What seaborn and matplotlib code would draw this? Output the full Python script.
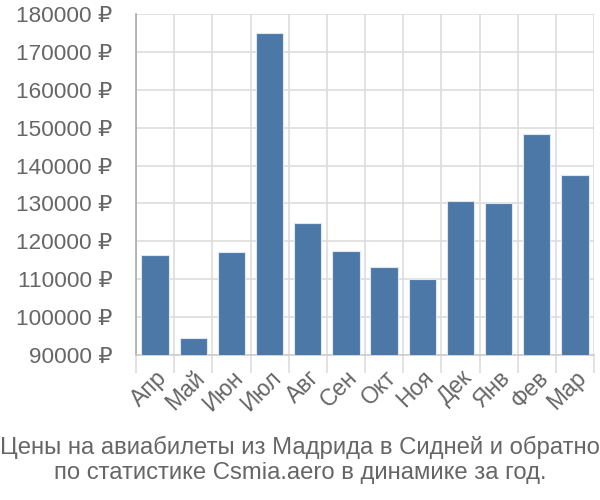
import matplotlib
matplotlib.use("Agg")
import matplotlib.pyplot as plt
from matplotlib.ticker import FixedLocator, FuncFormatter
import seaborn as sns
import pandas as pd

months = ["Апр", "Май", "Июн", "Июл", "Авг", "Сен", "Окт", "Ноя", "Дек", "Янв", "Фев", "Мар"]
prices = [116400, 94400, 117200, 175000, 124900, 117400, 113300, 110000, 130700, 130100, 148300, 137600]
caption = "Цены на авиабилеты из Мадрида в Сидней и обратно\nпо статистике Csmia.aero в динамике за год."

sns.set_theme(style="white")
plt.rcParams['font.family'] = ['Liberation Sans', 'DejaVu Sans']

df = pd.DataFrame({"month": months, "price": prices})

fig = plt.figure(figsize=(6, 5), dpi=100)
ax = fig.add_axes([136/600, 1-355/500, (594-136)/600, (355-14)/500])

sns.barplot(data=df, x="month", y="price", color="#4c78a8", saturation=1,
            width=0.72, edgecolor="#dfe6ee", linewidth=0.8, ax=ax, zorder=3)

ax.set_ylim(90000, 180000)
ax.set_xlim(-0.5, len(months) - 0.5)
ax.set_yticks(range(90000, 180001, 10000))
ax.yaxis.set_major_formatter(FuncFormatter(lambda v, p: f"{int(v)} ₽"))
ax.set_xticks(range(len(months)))
ax.set_xticklabels(months, rotation=45, ha="right", va="top", rotation_mode="anchor")
ax.xaxis.set_minor_locator(FixedLocator([i - 0.5 for i in range(len(months) + 1)]))

ax.grid(False)
ax.grid(True, axis="y", which="major", color="#dddddd", linewidth=1.2, zorder=0)
ax.grid(True, axis="x", which="minor", color="#dddddd", linewidth=1.2, zorder=0)
ax.set_axisbelow(True)

ax.tick_params(axis="y", which="major", length=15, color="#dddddd", width=1.2,
               labelsize=16.2, labelcolor="#666666", pad=2)
ax.tick_params(axis="x", which="major", length=0, labelsize=16.5, labelcolor="#666666", pad=8)
ax.tick_params(axis="x", which="minor", length=13, color="#dddddd", width=1.2, bottom=True)

for s in ["top", "right"]:
    ax.spines[s].set_visible(False)
ax.spines["left"].set_color("#aaaaaa")
ax.spines["left"].set_linewidth(1.2)
ax.spines["bottom"].set_color("#cccccc")
ax.spines["bottom"].set_linewidth(1.2)

ax.set_xlabel("")
ax.set_ylabel("")

fig.text(0.5, 1 - 460/500, caption, ha="center", va="center", fontsize=17.2,
         color="#666666", linespacing=1.15)

fig.savefig("out.png", dpi=100)
